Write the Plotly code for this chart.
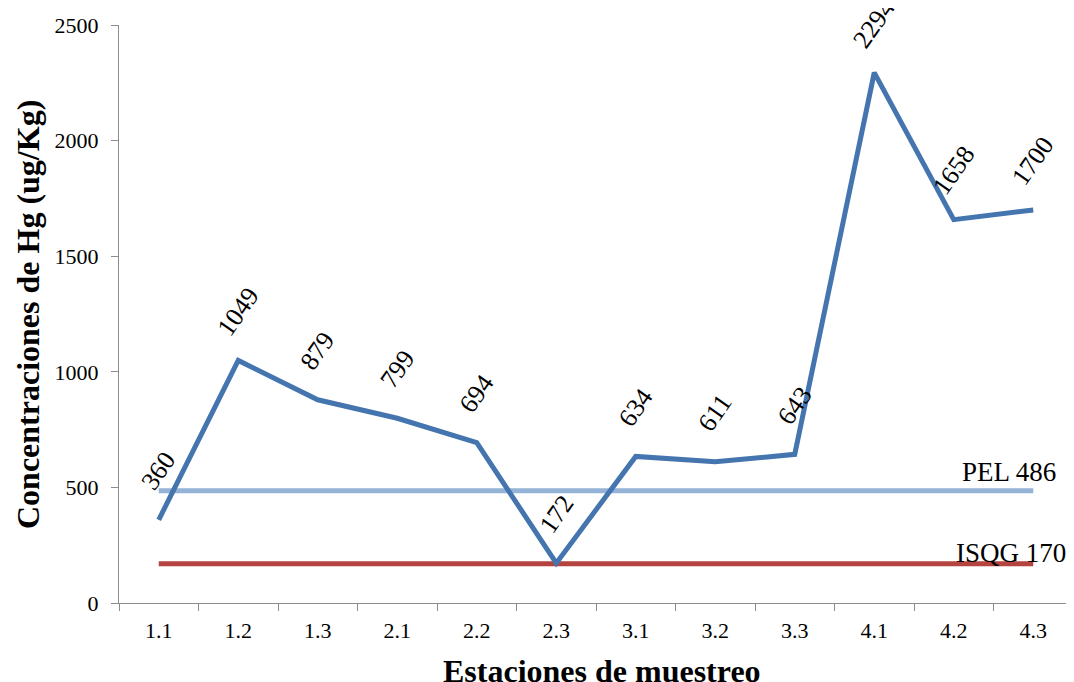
import plotly.graph_objects as go

estaciones = ["1.1", "1.2", "1.3", "2.1", "2.2", "2.3", "3.1", "3.2", "3.3", "4.1", "4.2", "4.3"]
hg = [360, 1049, 879, 799, 694, 172, 634, 611, 643, 2294, 1658, 1700]
pel_value = 486
isqg_value = 170
pel = [pel_value] * len(estaciones)
isqg = [isqg_value] * len(estaciones)

SERIF = "Liberation Serif"
C_MAIN = "#4575AF"
C_PEL = "#95B3D7"
C_ISQG = "#B5433F"

fig = go.Figure()
fig.add_trace(go.Scatter(x=estaciones, y=pel, mode="lines", line=dict(color=C_PEL, width=5), name="PEL"))
fig.add_trace(go.Scatter(x=estaciones, y=isqg, mode="lines", line=dict(color=C_ISQG, width=5), name="ISQG"))
fig.add_trace(go.Scatter(x=estaciones, y=hg, mode="lines", line=dict(color=C_MAIN, width=5), name="Hg"))

annotations = []
for i, v in enumerate(hg):
    annotations.append(dict(x=i, y=v, xref="x", yref="y", text=str(v), showarrow=False,
                            textangle=-55, yshift=49, xanchor="center", yanchor="middle",
                            font=dict(family=SERIF, size=26, color="black")))

last = len(estaciones) - 1
annotations.append(dict(x=last, y=pel_value, xref="x", yref="y", text=f"PEL {pel_value}",
                        showarrow=False, xanchor="right", yanchor="middle", xshift=25, yshift=19,
                        font=dict(family=SERIF, size=27, color="black")))
annotations.append(dict(x=last, y=isqg_value, xref="x", yref="y", text=f"ISQG {isqg_value}",
                        showarrow=False, xanchor="right", yanchor="middle", xshift=35, yshift=11,
                        font=dict(family=SERIF, size=27, color="black")))

annotations.append(dict(x=-0.0954, y=0.5, xref="paper", yref="paper", text="<b>Concentraciones de Hg (ug/Kg)</b>",
                        showarrow=False, textangle=-90, xanchor="center", yanchor="middle",
                        font=dict(family=SERIF, size=32, color="black")))
annotations.append(dict(x=0.506, y=-0.1175, xref="paper", yref="paper", text="<b>Estaciones de muestreo</b>",
                        showarrow=False, xanchor="center", yanchor="middle",
                        font=dict(family=SERIF, size=32, color="black")))

fig.update_layout(
    width=1066, height=674,
    margin=dict(l=111, r=1, t=17, b=79),
    paper_bgcolor="white", plot_bgcolor="white",
    showlegend=False,
    font=dict(family=SERIF, color="black"),
    annotations=annotations,
    xaxis=dict(type="category", range=[-0.5, 11.5], showline=True, linecolor="#8C8C8C", linewidth=1,
               ticks="outside", tickson="boundaries", ticklen=7, tickcolor="#8C8C8C",
               showgrid=False, zeroline=False,
               tickfont=dict(family=SERIF, size=22, color="black"), ticklabelstandoff=8),
    yaxis=dict(range=[0, 2500], tickvals=[0, 500, 1000, 1500, 2000, 2500], showline=True,
               linecolor="#8C8C8C", linewidth=1, ticks="outside", ticklen=7, tickcolor="#8C8C8C",
               showgrid=False, zeroline=False,
               tickfont=dict(family=SERIF, size=22, color="black"), ticklabelstandoff=8),
)

fig.write_html("out.html")
